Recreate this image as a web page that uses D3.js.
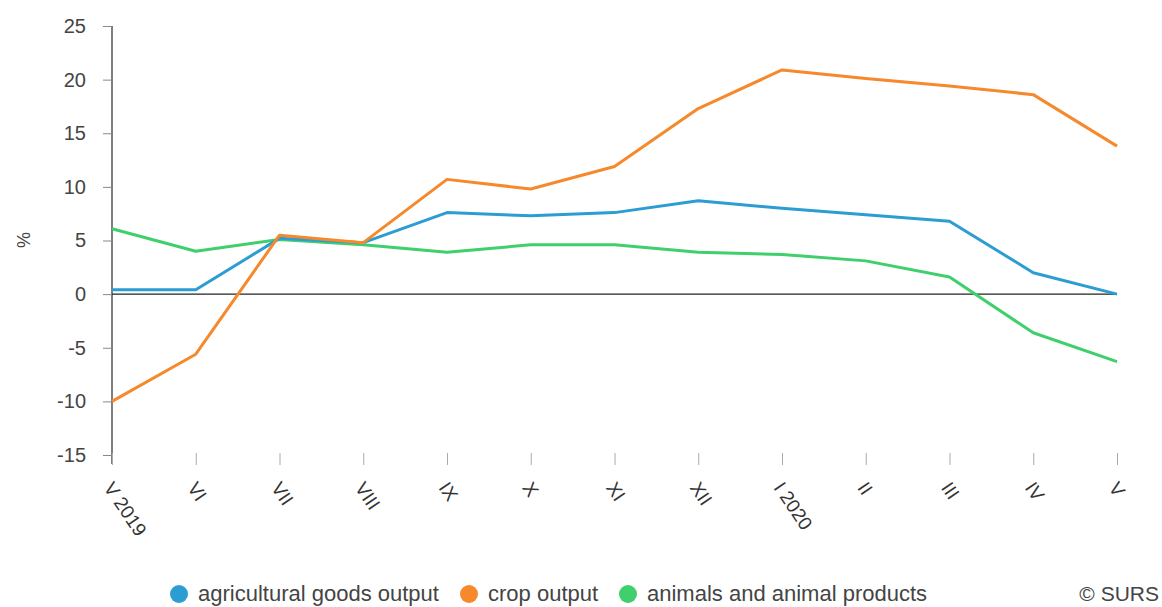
<!DOCTYPE html>
<html>
<head>
<meta charset="utf-8">
<script src="https://cdn.jsdelivr.net/npm/d3@7"></script>
<style>
  body { margin: 0; background: #fff; }
  svg { font-family: "Liberation Sans", Arial, sans-serif; }
  .y-axis text { font-size: 20px; fill: #444; }
  .x-axis text { font-size: 19px; fill: #333; }
  .legend text { font-size: 22px; fill: #444; }
</style>
</head>
<body>
<svg id="chart" width="1162" height="607"></svg>
<script>
// months on the x axis
var months = ["V 2019", "VI", "VII", "VIII", "IX", "X", "XI", "XII", "I 2020", "II", "III", "IV", "V"];
var yTicks = [-15, -10, -5, 0, 5, 10, 15, 20, 25];

var agricultural = [0.4, 0.4, 5.2, 4.8, 7.6, 7.3, 7.6, 8.7, 8.0, 7.4, 6.8, 2.0, 0.0];
var crop = [-10.0, -5.6, 5.5, 4.8, 10.7, 9.8, 11.9, 17.3, 20.9, 20.1, 19.4, 18.6, 13.8];
var animals = [6.1, 4.0, 5.1, 4.6, 3.9, 4.6, 4.6, 3.9, 3.7, 3.1, 1.6, -3.6, -6.3];

var seriesNames = ["agricultural goods output", "crop output", "animals and animal products"];
var seriesColors = ["#2b9dd3", "#f5892b", "#3fcf6c"];

var svg = d3.select("#chart");

var x = d3.scalePoint().domain(months).range([112, 1117]);
var y = d3.scaleLinear().domain([-15, 25]).range([455, 26]);

// y axis
var yAxis = svg.append("g")
  .attr("class", "y-axis")
  .attr("transform", "translate(112,0)")
  .call(d3.axisLeft(y).tickValues(yTicks).tickSize(9).tickPadding(17)
    .tickFormat(function(d) { return String(d); }));
yAxis.select(".domain").attr("stroke", "#555").attr("stroke-width", 1.5)
  .attr("d", "M0," + y(25) + "V" + (y(-15) + 9));
yAxis.selectAll(".tick line").attr("stroke", "#888");

svg.append("text")
  .attr("transform", "translate(30,240) rotate(-90)")
  .attr("text-anchor", "middle")
  .attr("font-size", 18)
  .attr("fill", "#444")
  .text("%");

// x axis: only ticks + rotated labels
var xAxis = svg.append("g")
  .attr("class", "x-axis")
  .attr("transform", "translate(0," + (y(-15) - 2) + ")")
  .call(d3.axisBottom(x).tickSize(12).tickPadding(10));
xAxis.select(".domain").remove();
xAxis.selectAll(".tick line").attr("stroke", "#aaa");
xAxis.selectAll(".tick text")
  .attr("text-anchor", "start")
  .attr("dy", "0.35em")
  .attr("x", 0).attr("y", 0)
  .attr("transform", "translate(-4,31) rotate(56)");

// zero line
svg.append("line")
  .attr("x1", 112).attr("x2", 1117)
  .attr("y1", y(0)).attr("y2", y(0))
  .attr("stroke", "#222").attr("stroke-width", 1.3);

var line = d3.line()
  .x(function(d, i) { return x(months[i]); })
  .y(function(d) { return y(d); });

var allSeries = [agricultural, crop, animals];
// green first, then blue, orange on top
[2, 0, 1].forEach(function(k) {
  svg.append("path")
    .datum(allSeries[k])
    .attr("fill", "none")
    .attr("stroke", seriesColors[k])
    .attr("stroke-width", 3)
    .attr("stroke-linejoin", "round")
    .attr("d", line);
});

// legend
var legendX = [198, 488, 647];
var legend = svg.append("g").attr("class", "legend");
seriesNames.forEach(function(name, i) {
  legend.append("circle")
    .attr("cx", legendX[i] - 19).attr("cy", 594).attr("r", 9)
    .attr("fill", seriesColors[i]);
  legend.append("text")
    .attr("x", legendX[i]).attr("y", 601)
    .text(name);
});

svg.append("text")
  .attr("x", 1159).attr("y", 601)
  .attr("text-anchor", "end")
  .attr("font-size", 21)
  .attr("fill", "#444")
  .text("© SURS");
</script>
</body>
</html>
